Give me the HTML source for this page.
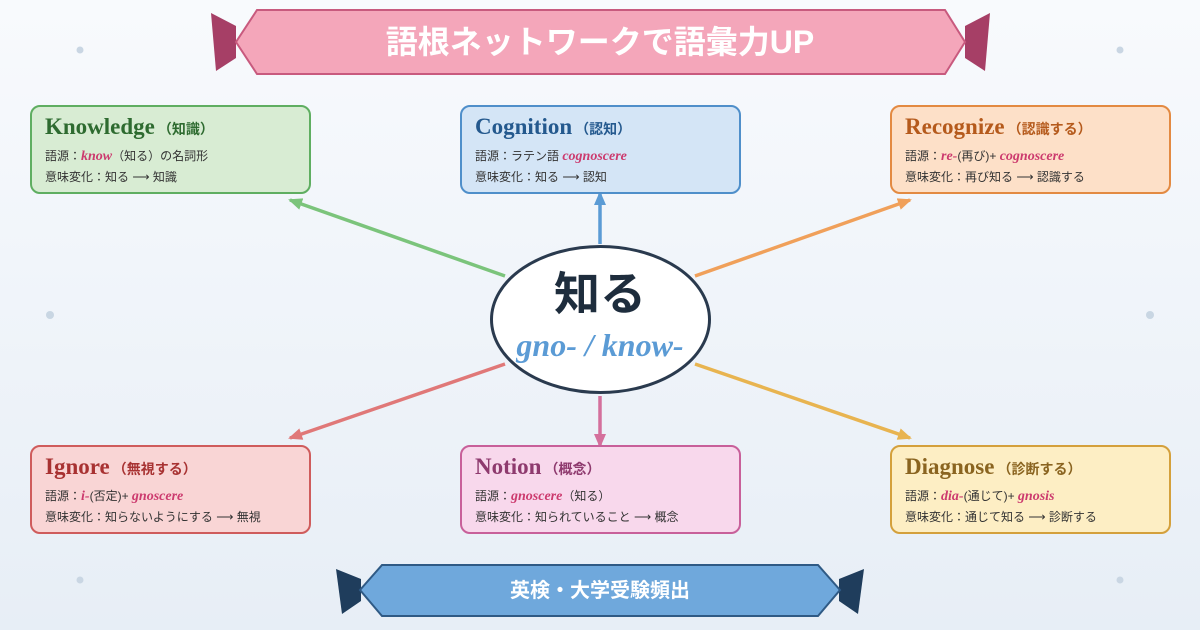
<!DOCTYPE html>
<html><head><meta charset="utf-8"><style>
html,body{margin:0;padding:0}
body{width:1200px;height:630px;overflow:hidden}
text{font-family:"Liberation Sans","Noto Sans CJK JP",sans-serif}
text.t,tspan.t{font-family:"Liberation Serif","Noto Serif CJK SC",serif;font-weight:bold;font-size:23px}
.tj{font-family:"Liberation Sans","Noto Sans CJK JP",sans-serif;font-weight:bold;font-size:14px}
.s{font-size:12px;fill:#333}
tspan.e{font-family:"Liberation Serif",serif;font-style:italic;font-weight:bold;fill:#cc3a6e;font-size:14px}
text.c{font-family:"Liberation Serif",serif;font-style:italic;font-weight:bold}
</style></head><body>
<svg width="1200" height="630" viewBox="0 0 1200 630" xmlns="http://www.w3.org/2000/svg">
<defs>
<linearGradient id="bg" x1="0" y1="0" x2="0" y2="1"><stop offset="0" stop-color="#f8fafd"/><stop offset="1" stop-color="#e7eef6"/></linearGradient>
<marker id="ag" markerWidth="14" markerHeight="12" refX="12" refY="6" orient="auto" markerUnits="userSpaceOnUse"><path d="M0,0 L14,6 L0,12Z" fill="#7bc47b"/></marker>
<marker id="ab" markerWidth="14" markerHeight="12" refX="12" refY="6" orient="auto" markerUnits="userSpaceOnUse"><path d="M0,0 L14,6 L0,12Z" fill="#5b9bd5"/></marker>
<marker id="ao" markerWidth="14" markerHeight="12" refX="12" refY="6" orient="auto" markerUnits="userSpaceOnUse"><path d="M0,0 L14,6 L0,12Z" fill="#f0a05a"/></marker>
<marker id="ar" markerWidth="14" markerHeight="12" refX="12" refY="6" orient="auto" markerUnits="userSpaceOnUse"><path d="M0,0 L14,6 L0,12Z" fill="#e07878"/></marker>
<marker id="ap" markerWidth="14" markerHeight="12" refX="12" refY="6" orient="auto" markerUnits="userSpaceOnUse"><path d="M0,0 L14,6 L0,12Z" fill="#d4709c"/></marker>
<marker id="ay" markerWidth="14" markerHeight="12" refX="12" refY="6" orient="auto" markerUnits="userSpaceOnUse"><path d="M0,0 L14,6 L0,12Z" fill="#e8b450"/></marker>
</defs>
<rect width="1200" height="630" fill="url(#bg)"/>
<g fill="#c9d6e3"><circle cx="80" cy="50" r="3.5"/><circle cx="1120" cy="50" r="3.5"/><circle cx="50" cy="315" r="4"/><circle cx="1150" cy="315" r="4"/><circle cx="80" cy="580" r="3.5"/><circle cx="1120" cy="580" r="3.5"/></g>

<!-- header -->
<polygon points="211,13 236,26 236,58 216,71" fill="#a63f66"/>
<polygon points="990,13 965,26 965,58 985,71" fill="#a63f66"/>
<polygon points="257,10 945,10 965,42 945,74 257,74 236,42" fill="#f4a6ba" stroke="#c85a7e" stroke-width="2"/>
<text x="600" y="53" text-anchor="middle" font-size="32" font-weight="bold" fill="#fff">語根ネットワークで語彙力UP</text>

<!-- footer -->
<polygon points="336,569 361,579 361,601 342,614" fill="#1f3d5c"/>
<polygon points="864,569 839,579 839,601 858,614" fill="#1f3d5c"/>
<polygon points="382,565 818,565 840,590 818,616 382,616 360,590" fill="#6fa8dc" stroke="#2f5a85" stroke-width="2"/>
<text x="600" y="597" text-anchor="middle" font-size="20" font-weight="bold" fill="#fff">英検・大学受験頻出</text>

<!-- arrows -->
<g stroke-width="3.5">
<line x1="505" y1="276" x2="290" y2="200" stroke="#7bc47b" marker-end="url(#ag)"/>
<line x1="600" y1="244" x2="600" y2="193" stroke="#5b9bd5" marker-end="url(#ab)"/>
<line x1="695" y1="276" x2="910" y2="200" stroke="#f0a05a" marker-end="url(#ao)"/>
<line x1="505" y1="364" x2="290" y2="438" stroke="#e07878" marker-end="url(#ar)"/>
<line x1="600" y1="396" x2="600" y2="446" stroke="#d4709c" marker-end="url(#ap)"/>
<line x1="695" y1="364" x2="910" y2="438" stroke="#e8b450" marker-end="url(#ay)"/>
</g>

<ellipse cx="600.5" cy="319.5" rx="109" ry="73" fill="#fff" stroke="#2a3a4e" stroke-width="3"/>
<text x="600" y="310" text-anchor="middle" font-size="46" font-weight="bold" fill="#1e2d3d">知る</text>
<text x="600" y="356" text-anchor="middle" class="c" font-size="32" fill="#5b9bd5">gno- / know-</text>

<!-- boxes -->
<rect x="31" y="106" width="279" height="87" rx="9" fill="#d8ecd3" stroke="#5fae61" stroke-width="2"/>
<text x="45" y="134"><tspan class="t" fill="#2e6b30">Knowledge</tspan><tspan class="tj" fill="#2e6b30" dx="3">（知識）</tspan></text>
<text x="45" y="160" class="s">語源：<tspan class="e">know</tspan>（知る）の名詞形</text>
<text x="45" y="181" class="s">意味変化：知る ⟶ 知識</text>

<rect x="461" y="106" width="279" height="87" rx="9" fill="#d4e5f6" stroke="#4f8fca" stroke-width="2"/>
<text x="475" y="134"><tspan class="t" fill="#24598e">Cognition</tspan><tspan class="tj" fill="#24598e" dx="3">（認知）</tspan></text>
<text x="475" y="160" class="s">語源：ラテン語 <tspan class="e">cognoscere</tspan></text>
<text x="475" y="181" class="s">意味変化：知る ⟶ 認知</text>

<rect x="891" y="106" width="279" height="87" rx="9" fill="#fde0c8" stroke="#e38a42" stroke-width="2"/>
<text x="905" y="134"><tspan class="t" fill="#b55a1c">Recognize</tspan><tspan class="tj" fill="#b55a1c" dx="3">（認識する）</tspan></text>
<text x="905" y="160" class="s">語源：<tspan class="e">re-</tspan>(再び)+ <tspan class="e">cognoscere</tspan></text>
<text x="905" y="181" class="s">意味変化：再び知る ⟶ 認識する</text>

<rect x="31" y="446" width="279" height="87" rx="9" fill="#f9d5d5" stroke="#cf5c5c" stroke-width="2"/>
<text x="45" y="474"><tspan class="t" fill="#a83232">Ignore</tspan><tspan class="tj" fill="#a83232" dx="3">（無視する）</tspan></text>
<text x="45" y="500" class="s">語源：<tspan class="e">i-</tspan>(否定)+ <tspan class="e">gnoscere</tspan></text>
<text x="45" y="521" class="s">意味変化：知らないようにする ⟶ 無視</text>

<rect x="461" y="446" width="279" height="87" rx="9" fill="#f8d8ec" stroke="#c8609a" stroke-width="2"/>
<text x="475" y="474"><tspan class="t" fill="#8e3a6e">Notion</tspan><tspan class="tj" fill="#8e3a6e" dx="3">（概念）</tspan></text>
<text x="475" y="500" class="s">語源：<tspan class="e">gnoscere</tspan>（知る）</text>
<text x="475" y="521" class="s">意味変化：知られていること ⟶ 概念</text>

<rect x="891" y="446" width="279" height="87" rx="9" fill="#fdeec4" stroke="#d4a03c" stroke-width="2"/>
<text x="905" y="474"><tspan class="t" fill="#8a6420">Diagnose</tspan><tspan class="tj" fill="#8a6420" dx="3">（診断する）</tspan></text>
<text x="905" y="500" class="s">語源：<tspan class="e">dia-</tspan>(通じて)+ <tspan class="e">gnosis</tspan></text>
<text x="905" y="521" class="s">意味変化：通じて知る ⟶ 診断する</text>
</svg>
</body></html>
